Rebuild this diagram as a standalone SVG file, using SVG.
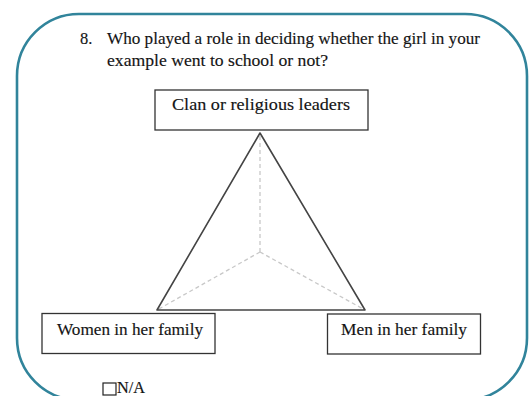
<svg xmlns="http://www.w3.org/2000/svg" width="531" height="396" viewBox="0 0 531 396">
<style>
.t{font-family:"Liberation Serif","Times New Roman",serif;font-size:16.5px;fill:#141414;stroke:#141414;stroke-width:0.15}
.box{fill:#fff;stroke:#333;stroke-width:1.3}
.dash{stroke:#c8c8c8;stroke-width:1.3;stroke-dasharray:4 3;fill:none}
</style>
<rect width="531" height="396" fill="#fff"/>
<rect x="17" y="14" width="510" height="386" rx="62" ry="62" fill="none" stroke="#31849B" stroke-width="2.6"/>
<text class="t" x="80" y="44">8.</text>
<text class="t" x="107" y="44" textLength="373" lengthAdjust="spacingAndGlyphs">Who played a role in deciding whether the girl in your</text>
<text class="t" x="107" y="66" textLength="221" lengthAdjust="spacingAndGlyphs">example went to school or not?</text>
<g id="connectors">
<line class="dash" x1="260" y1="252" x2="260" y2="134"/>
<line class="dash" x1="260" y1="252" x2="157" y2="310"/>
<line class="dash" x1="260" y1="252" x2="365" y2="310"/>
<polygon points="260,133 157,310 365,310" fill="none" stroke="#444" stroke-width="1.6" stroke-linejoin="round"/>
</g>
<g id="clan">
<rect class="box" x="155" y="90" width="213" height="40"/>
<text class="t" x="172" y="110" textLength="178" lengthAdjust="spacingAndGlyphs">Clan or religious leaders</text>
</g>
<g id="women">
<rect class="box" x="42" y="313.5" width="173" height="40"/>
<text class="t" x="57" y="335" textLength="146" lengthAdjust="spacingAndGlyphs">Women in her family</text>
</g>
<g id="men">
<rect class="box" x="327.5" y="314" width="153" height="40"/>
<text class="t" x="341" y="335" textLength="126" lengthAdjust="spacingAndGlyphs">Men in her family</text>
</g>
<g id="na">
<rect x="103" y="383" width="13" height="12" fill="#fff" stroke="#222" stroke-width="1.2"/>
<text class="t" x="117" y="393" textLength="28" lengthAdjust="spacingAndGlyphs">N/A</text>
</g>
</svg>
